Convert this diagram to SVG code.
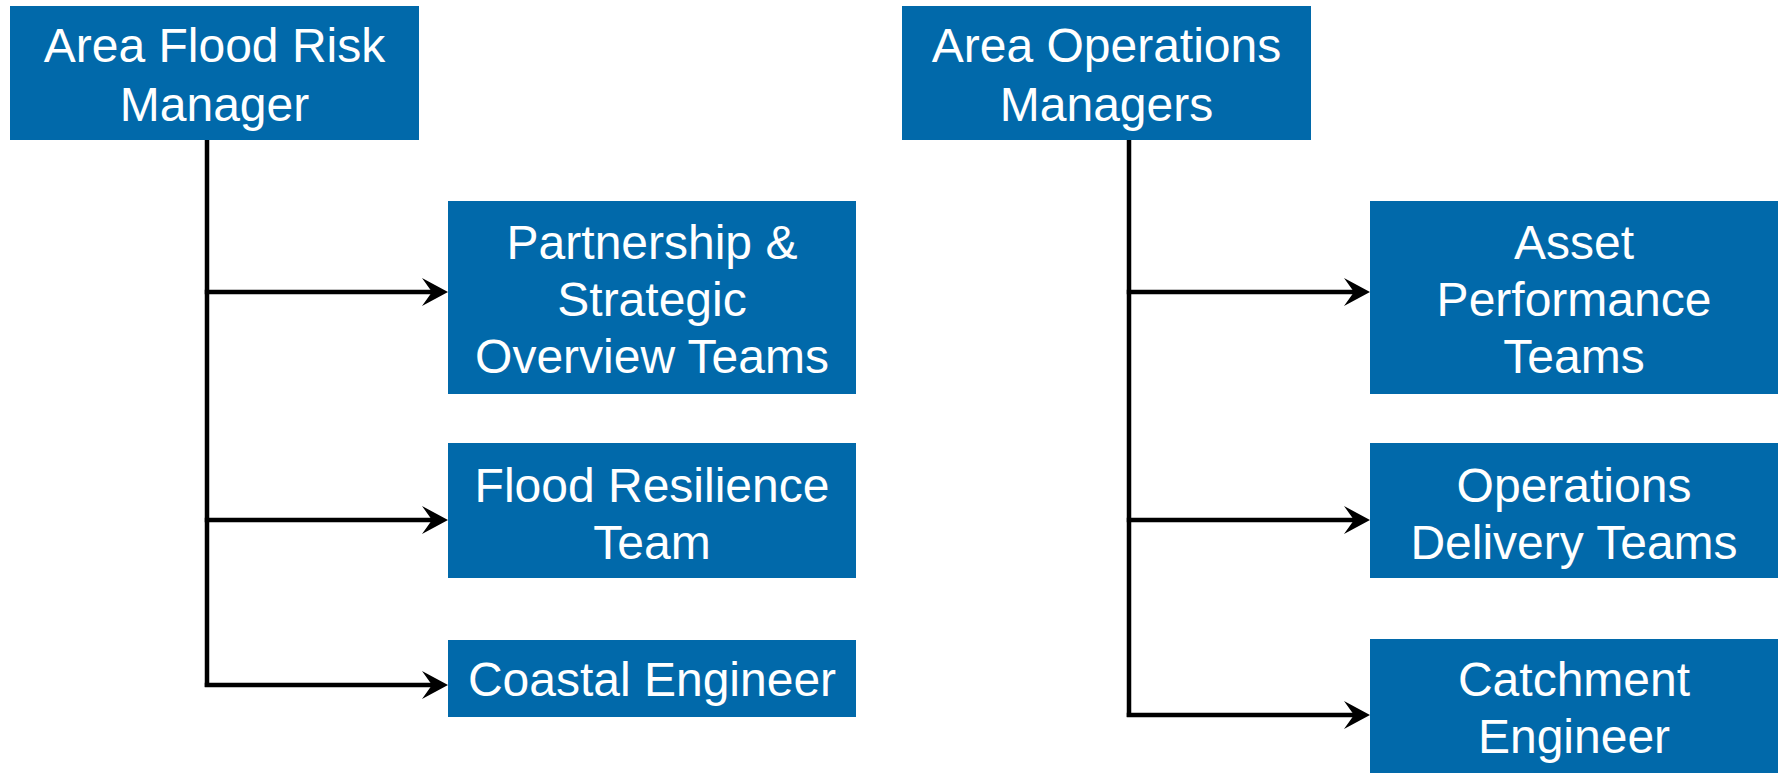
<svg xmlns="http://www.w3.org/2000/svg" width="1783" height="773" viewBox="0 0 1783 773">
<style>
.box{fill:#0169AA}
.t{font-family:"Liberation Sans",Arial,sans-serif;font-size:48px;fill:#ffffff;text-anchor:middle}
.c{stroke:#000000;stroke-width:4.5;fill:none}
</style>
<defs>
<marker id="arr" markerUnits="userSpaceOnUse" markerWidth="27" markerHeight="30" viewBox="0 0 26 30" refX="18" refY="15" orient="auto">
<path d="M0,1 L26,15 L0,29 L10,15 Z" fill="#000000"/>
</marker>
</defs>
<rect width="1783" height="773" fill="#ffffff"/>
<g id="connectors">
<path class="c" d="M207,139 V687"/>
<path class="c" d="M204.75,292 H440" marker-end="url(#arr)"/>
<path class="c" d="M204.75,520 H440" marker-end="url(#arr)"/>
<path class="c" d="M204.75,685 H440" marker-end="url(#arr)"/>
<path class="c" d="M1129,139 V717"/>
<path class="c" d="M1126.75,292 H1362" marker-end="url(#arr)"/>
<path class="c" d="M1126.75,520 H1362" marker-end="url(#arr)"/>
<path class="c" d="M1126.75,715 H1362" marker-end="url(#arr)"/>
</g>
<g id="area-flood-risk-manager">
<rect class="box" x="10" y="6" width="409" height="134"/>
<text class="t" x="214.5" y="62">Area Flood Risk</text>
<text class="t" x="214.5" y="121">Manager</text>
</g>
<g id="partnership">
<rect class="box" x="448" y="201" width="408" height="193"/>
<text class="t" x="652" y="259">Partnership &amp;</text>
<text class="t" x="652" y="316">Strategic</text>
<text class="t" x="652" y="373">Overview Teams</text>
</g>
<g id="flood-resilience">
<rect class="box" x="448" y="443" width="408" height="135"/>
<text class="t" x="652" y="502">Flood Resilience</text>
<text class="t" x="652" y="559">Team</text>
</g>
<g id="coastal-engineer">
<rect class="box" x="448" y="640" width="408" height="77"/>
<text class="t" x="652" y="696">Coastal Engineer</text>
</g>
<g id="area-operations-managers">
<rect class="box" x="902" y="6" width="409" height="134"/>
<text class="t" x="1106.5" y="62">Area Operations</text>
<text class="t" x="1106.5" y="121">Managers</text>
</g>
<g id="asset-performance">
<rect class="box" x="1370" y="201" width="408" height="193"/>
<text class="t" x="1574" y="259">Asset</text>
<text class="t" x="1574" y="316">Performance</text>
<text class="t" x="1574" y="373">Teams</text>
</g>
<g id="operations-delivery">
<rect class="box" x="1370" y="443" width="408" height="135"/>
<text class="t" x="1574" y="502">Operations</text>
<text class="t" x="1574" y="559">Delivery Teams</text>
</g>
<g id="catchment-engineer">
<rect class="box" x="1370" y="639" width="408" height="134"/>
<text class="t" x="1574" y="696">Catchment</text>
<text class="t" x="1574" y="753">Engineer</text>
</g>
</svg>
